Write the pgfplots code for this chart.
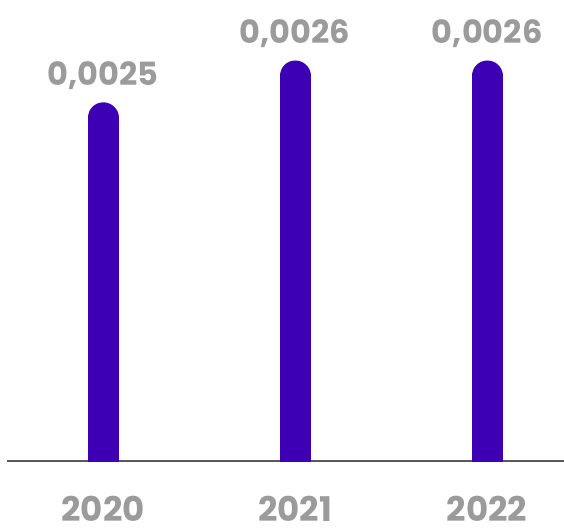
\documentclass[border=0pt]{standalone}
\usepackage{fontspec}
\setmainfont{Poppins}
\usepackage{pgfplots}
\pgfplotsset{compat=1.18}
\definecolor{barviolet}{HTML}{3D00B5}
\definecolor{labelgray}{HTML}{9B9B9B}
\definecolor{basegray}{HTML}{5A5A5A}
\begin{document}
\begin{tikzpicture}
% page box: 564 x 527, axis line 66pt above the bottom edge
\useasboundingbox (-7pt,-66pt) rectangle (557pt,461pt);
\begin{axis}[
  scale only axis,
  width=557pt, height=461pt,
  xmin=-0.5, xmax=2.4,
  ymin=0.00168, ymax=0.0027816,
  axis y line=none,
  axis x line*=bottom,
  x axis line style={-, draw=basegray, line width=1.2pt},
  xtick={0,1,2},
  xticklabels={2020,2021,2022},
  major tick length=0pt,
  xticklabel style={anchor=base, yshift=-60pt, inner sep=0pt, text depth=0pt,
    text=labelgray, font=\fontsize{34}{40}\selectfont\bfseries},
  clip=true,
]
% bars: thick stems with a round cap on top (bottom cap is clipped away)
\addplot+[ycomb, draw=barviolet, line width=31pt, line cap=round, mark=none,
  nodes near coords={\pgfmathprintnumber[fixed,fixed zerofill,precision=4,use comma,assume math mode=true]{\pgfplotspointmeta}},
  every node near coord/.style={anchor=base, yshift=32pt, text=labelgray,
    font=\fontsize{32}{38}\selectfont\bfseries}]
  coordinates {(0,0.0025) (1,0.0026) (2,0.0026)};
\end{axis}
\end{tikzpicture}
\end{document}
